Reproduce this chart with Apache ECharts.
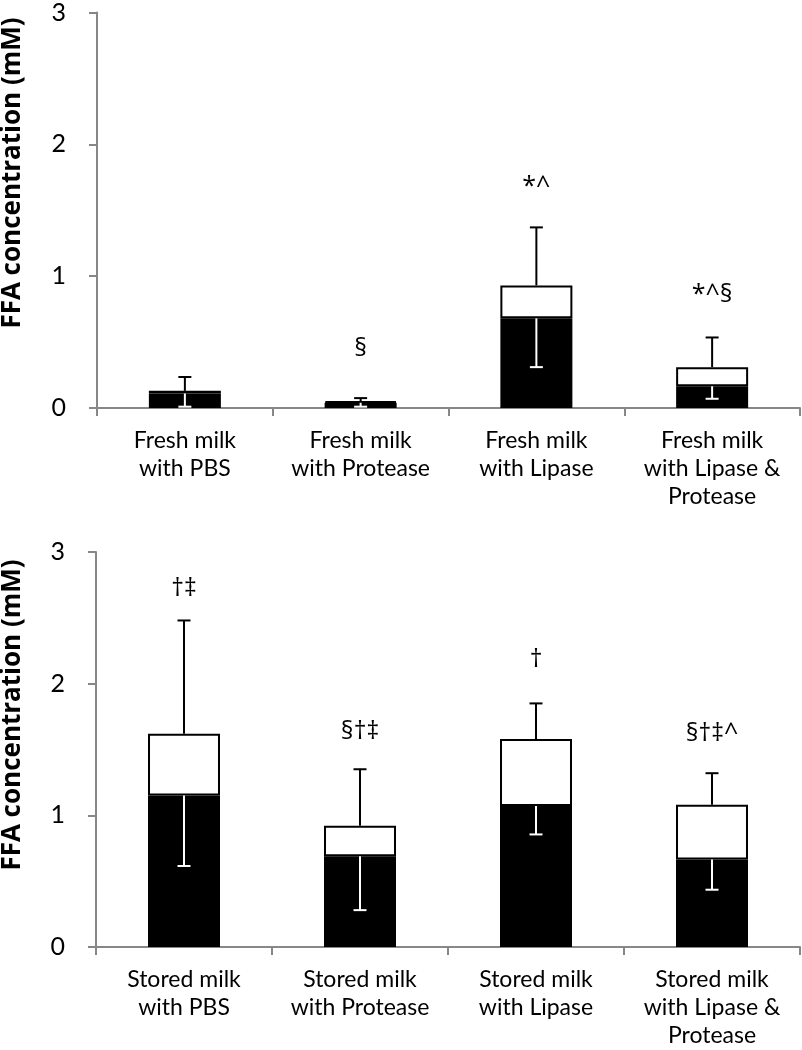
<!DOCTYPE html>
<html>
<head>
<meta charset="utf-8">
<script src="https://cdn.jsdelivr.net/npm/echarts@6/dist/echarts.min.js"></script>
<style>
html,body{margin:0;padding:0;background:#fff;}
#chart{width:802px;height:1050px;}
</style>
</head>
<body>
<div id="chart"></div>
<script>
// ---- Data ----
const freshCategories = ['Fresh milk\nwith PBS', 'Fresh milk\nwith Protease', 'Fresh milk\nwith Lipase', 'Fresh milk\nwith Lipase &\nProtease'];
const freshBlack = [0.11, 0.04, 0.68, 0.165];
const freshTotal = [0.13, 0.05, 0.93, 0.31];
const freshErrUp = [0.105, 0.025, 0.44, 0.225];
const freshErrDown = [0.10, 0.03, 0.37, 0.095];
const freshMarks = ['', '§', '*^', '*^§'];
const freshMarkY = [null, 0.45, 1.68, 0.86];

const storedCategories = ['Stored milk\nwith PBS', 'Stored milk\nwith Protease', 'Stored milk\nwith Lipase', 'Stored milk\nwith Lipase &\nProtease'];
const storedBlack = [1.15, 0.69, 1.07, 0.665];
const storedTotal = [1.62, 0.92, 1.58, 1.08];
const storedErrUp = [0.86, 0.43, 0.27, 0.24];
const storedErrDown = [0.535, 0.41, 0.215, 0.23];
const storedMarks = ['†‡', '§†‡', '†', '§†‡^'];
const storedMarkY = [2.72, 1.635, 2.18, 1.62];

const yTicks = [0, 1, 2, 3];
const yTitle = 'FFA concentration (mM)';

// ---- Styling ----
const FONT = 'Lato, "Open Sans", sans-serif';
const MARK_FONT = '"Open Sans", Lato, sans-serif';
const AXIS_COLOR = '#878787';

function errRenderer(color, dir) {
  return function (params, api) {
    const i = api.value(0);
    const base = api.value(1);
    const e = api.value(2);
    const p0 = api.coord([i, base]);
    const p1 = api.coord([i, base + dir * e]);
    const half = 6.5;
    const style = { stroke: color, lineWidth: 2 };
    return {
      type: 'group',
      children: [
        { type: 'line', shape: { x1: p0[0], y1: p0[1], x2: p1[0], y2: p1[1] }, style: style },
        { type: 'line', shape: { x1: p1[0] - half, y1: p1[1], x2: p1[0] + half, y2: p1[1] }, style: style }
      ]
    };
  };
}

function markData(markY) {
  const out = [];
  markY.forEach((y, k) => { if (y != null) out.push([k, y]); });
  return out;
}
function markRenderer(marks) {
  return function (params, api) {
    const idx = api.value(0);
    const p = api.coord([idx, api.value(1)]);
    return {
      type: 'text',
      x: p[0], y: p[1],
      style: { text: marks[idx], fill: '#000', font: '25px ' + MARK_FONT, align: 'center', verticalAlign: 'middle' }
    };
  };
}

function buildSeries(gi, black, total, errUp, errDown, marks, markY) {
  const whitePart = total.map((t, k) => +(t - black[k]).toFixed(4));
  return [
    {
      type: 'bar', xAxisIndex: gi, yAxisIndex: gi, stack: 's' + gi, barWidth: 72,
      data: black, itemStyle: { color: '#000', borderColor: '#000', borderWidth: 2 }, z: 2
    },
    {
      type: 'bar', xAxisIndex: gi, yAxisIndex: gi, stack: 's' + gi, barWidth: 72,
      data: whitePart, itemStyle: { color: '#fff', borderColor: '#000', borderWidth: 2 }, z: 2
    },
    {
      type: 'custom', xAxisIndex: gi, yAxisIndex: gi, z: 5,
      renderItem: errRenderer('#fff', -1),
      data: black.map((b, k) => [k, b, errDown[k]])
    },
    {
      type: 'custom', xAxisIndex: gi, yAxisIndex: gi, z: 5,
      renderItem: errRenderer('#000', 1),
      data: total.map((t, k) => [k, t, errUp[k]])
    },
    {
      type: 'custom', xAxisIndex: gi, yAxisIndex: gi, z: 6,
      renderItem: markRenderer(marks),
      data: markData(markY)
    }
  ];
}

function xAxisCfg(gi, cats) {
  return {
    type: 'category', gridIndex: gi, data: cats,
    axisLine: { lineStyle: { color: AXIS_COLOR, width: 2 } },
    axisTick: { show: true, length: 8, lineStyle: { color: AXIS_COLOR, width: 2 } },
    axisLabel: { interval: 0, color: '#000', fontFamily: FONT, fontSize: 23, lineHeight: 28, margin: 19 }
  };
}
function yAxisCfg(gi) {
  return {
    type: 'value', gridIndex: gi, min: yTicks[0], max: yTicks[yTicks.length - 1], interval: 1,
    axisLine: { show: true, lineStyle: { color: AXIS_COLOR, width: 2 } },
    axisTick: { show: true, length: 8, lineStyle: { color: AXIS_COLOR, width: 2 } },
    splitLine: { show: false },
    axisLabel: { color: '#000', fontFamily: FONT, fontSize: 25, margin: 31 }
  };
}

const chart = echarts.init(document.getElementById('chart'), null, { renderer: 'canvas' });
chart.setOption({
  animation: false,
  backgroundColor: '#fff',
  grid: [
    { left: 97, right: 2, top: 7, height: 401 },
    { left: 96, right: 2, top: 552, height: 395 }
  ],
  xAxis: [xAxisCfg(0, freshCategories), xAxisCfg(1, storedCategories)],
  yAxis: [yAxisCfg(0), yAxisCfg(1)],
  graphic: [
    { type: 'text', x: 13, y: 173, rotation: Math.PI / 2,
      style: { text: yTitle, font: 'bold 26px "Open Sans", Lato, sans-serif', fill: '#000', align: 'center', verticalAlign: 'middle' } },
    { type: 'text', x: 13, y: 715, rotation: Math.PI / 2,
      style: { text: yTitle, font: 'bold 26px "Open Sans", Lato, sans-serif', fill: '#000', align: 'center', verticalAlign: 'middle' } }
  ],
  series: buildSeries(0, freshBlack, freshTotal, freshErrUp, freshErrDown, freshMarks, freshMarkY)
    .concat(buildSeries(1, storedBlack, storedTotal, storedErrUp, storedErrDown, storedMarks, storedMarkY))
});
</script>
</body>
</html>
